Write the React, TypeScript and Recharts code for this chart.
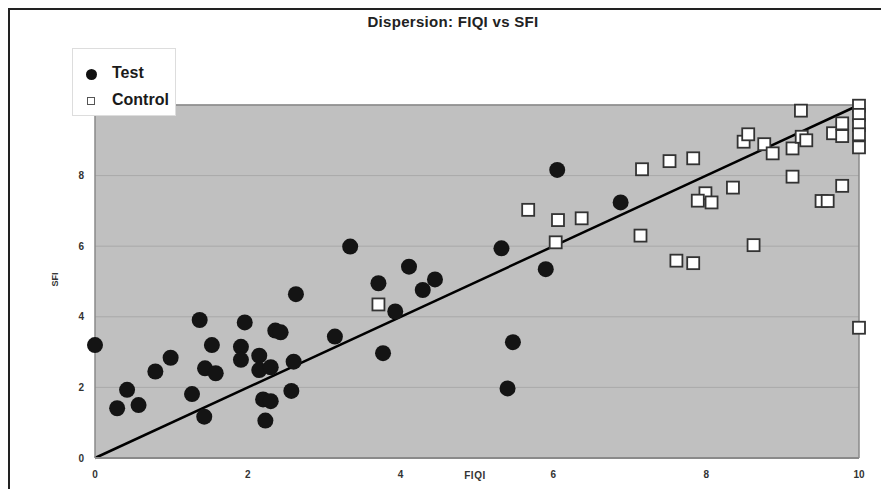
import { ScatterChart, Scatter, XAxis, YAxis, CartesianGrid, ReferenceLine } from 'recharts';

// FIQI (x) / SFI (y)
const testFiqi = [0, 0.29, 0.42, 0.57, 0.79, 0.99, 1.27, 1.37, 1.43, 1.44, 1.53, 1.58, 1.91, 1.91, 1.96, 2.15, 2.15, 2.3, 2.2, 2.3, 2.23, 2.36, 2.43, 2.6, 2.57, 2.63, 3.14, 3.34, 3.71, 3.77, 3.93, 4.11, 4.29, 4.45, 6.05, 5.32, 5.9, 5.47, 5.4, 6.88];
const testSfi = [3.2, 1.41, 1.93, 1.5, 2.45, 2.84, 1.81, 3.91, 1.17, 2.54, 3.2, 2.4, 3.15, 2.78, 3.84, 2.9, 2.49, 2.57, 1.66, 1.61, 1.06, 3.61, 3.56, 2.73, 1.9, 4.64, 3.44, 5.99, 4.95, 2.97, 4.15, 5.42, 4.76, 5.06, 8.16, 5.94, 5.35, 3.28, 1.97, 7.24];

const controlFiqi = [3.71, 5.67, 6.06, 6.37, 6.03, 7.16, 7.52, 7.83, 8.49, 8.55, 8.35, 7.99, 7.89, 8.07, 7.14, 7.61, 7.83, 8.62, 10, 9.24, 8.76, 8.87, 9.13, 9.25, 9.31, 9.13, 9.78, 9.51, 9.59, 9.66, 9.78, 9.78, 10, 10, 10, 10, 10];
const controlSfi = [4.35, 7.03, 6.74, 6.79, 6.11, 8.18, 8.41, 8.49, 8.96, 9.17, 7.66, 7.5, 7.29, 7.24, 6.3, 5.59, 5.52, 6.03, 3.69, 9.84, 8.89, 8.63, 8.77, 9.1, 9.0, 7.97, 7.71, 7.28, 7.28, 9.2, 9.48, 9.12, 9.98, 9.72, 9.43, 9.17, 8.8];

const fitLine = [{ x: 0, y: 0 }, { x: 10, y: 10 }];
const xTicks = [0, 2, 4, 6, 8, 10];
const yTicks = [0, 2, 4, 6, 8];

const testData = testFiqi.map((x, i) => ({ fiqi: x, sfi: testSfi[i] }));
const controlData = controlFiqi.map((x, i) => ({ fiqi: x, sfi: controlSfi[i] }));

const font = '"Liberation Sans", Arial, sans-serif';
const tickStyle = { fontSize: 10, fontWeight: 'bold', fill: '#333', fontFamily: font };

const TestDot = (p: any) => <circle cx={p.cx} cy={p.cy} r={8} fill="#141414" />;
const ControlSquare = (p: any) => (
    <rect x={p.cx - 6} y={p.cy - 6} width={12} height={12} fill="#ffffff" stroke="#333" strokeWidth={1.8} />
);

export default function App() {
    return (
        <div style={{ position: 'absolute', left: 0, top: 0, width: 881, height: 489, background: '#fff', fontFamily: font, overflow: 'hidden' }}>
            <div style={{ position: 'absolute', left: 8, top: 8, right: -2, bottom: -2, borderLeft: '2px solid #222', borderTop: '2px solid #222' }} />
            <div style={{ position: 'absolute', left: 0, width: 906, top: 13, textAlign: 'center', fontSize: 15, fontWeight: 'bold', color: '#222', letterSpacing: 0.3 }}>
                Dispersion: FIQI vs SFI
            </div>
            <ScatterChart width={881} height={489} margin={{ top: 105, right: 22, left: 0, bottom: 0 }} style={{ position: 'absolute', left: 0, top: 0 }}>
                <CartesianGrid vertical={false} stroke="#a9a9a9" fill="#c0c0c0" />
                <XAxis
                    dataKey="fiqi"
                    type="number"
                    domain={[0, 10]}
                    ticks={xTicks}
                    height={31}
                    tickLine={false}
                    tickMargin={7}
                    axisLine={{ stroke: '#8a8a8a', strokeWidth: 2 }}
                    tick={tickStyle}
                    label={{
                        content: (props: any) => {
                            const vb = props.viewBox || {};
                            return (
                                <text x={vb.x + vb.width / 2 - 2} y={vb.y + 21} textAnchor="middle" fontSize={10} fontWeight="bold" fill="#333" fontFamily={font} letterSpacing={0.5}>
                                    FIQI
                                </text>
                            );
                        },
                    }}
                />
                <YAxis
                    dataKey="sfi"
                    type="number"
                    domain={[0, 10]}
                    ticks={yTicks}
                    width={95}
                    tickLine={false}
                    tickMargin={5}
                    axisLine={{ stroke: '#8a8a8a', strokeWidth: 1.5 }}
                    tick={tickStyle}
                    label={{
                        content: (props: any) => {
                            const vb = props.viewBox || {};
                            const cx = 58;
                            const cy = vb.y + vb.height / 2 - 2;
                            return (
                                <text x={cx} y={cy} transform={`rotate(-90 ${cx} ${cy})`} textAnchor="middle" fontSize={9} fontWeight="bold" fill="#333" fontFamily={font}>
                                    SFI
                                </text>
                            );
                        },
                    }}
                />
                <ReferenceLine y={10} stroke="#8a8a8a" strokeWidth={1.5} />
                <ReferenceLine x={10} stroke="#8a8a8a" strokeWidth={1.5} />
                <ReferenceLine segment={fitLine} stroke="#000" strokeWidth={2.5} />
                <Scatter name="Test" data={testData} shape={TestDot} isAnimationActive={false} />
                <Scatter name="Control" data={controlData} shape={ControlSquare} isAnimationActive={false} />
            </ScatterChart>
            <div style={{ position: 'absolute', left: 72, top: 48, width: 104, height: 68, background: '#fff', border: '1px solid #ddd', boxSizing: 'border-box' }}>
                <div style={{ position: 'absolute', left: 13, top: 20, width: 11, height: 11, borderRadius: '50%', background: '#111' }} />
                <div style={{ position: 'absolute', left: 39, top: 14, fontSize: 16, fontWeight: 'bold', color: '#1a1a1a', lineHeight: '20px' }}>Test</div>
                <div style={{ position: 'absolute', left: 14, top: 48, width: 6, height: 6, border: '1.5px solid #555', background: '#fff' }} />
                <div style={{ position: 'absolute', left: 39, top: 41, fontSize: 16, fontWeight: 'bold', color: '#1a1a1a', lineHeight: '20px' }}>Control</div>
            </div>
        </div>
    );
}
